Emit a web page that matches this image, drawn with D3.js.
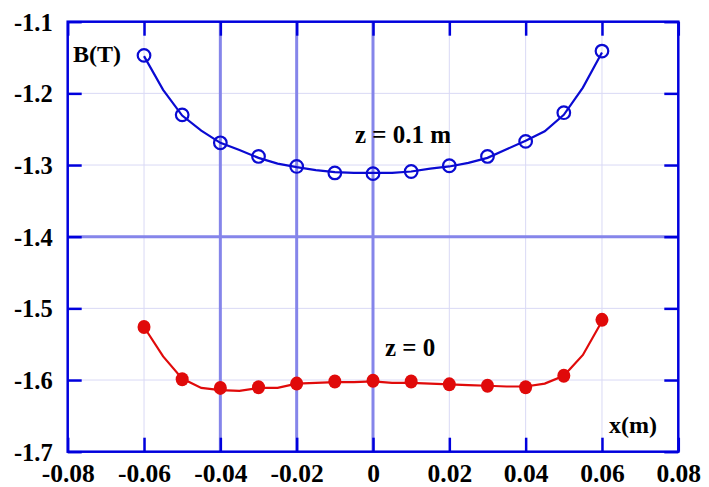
<!DOCTYPE html>
<html>
<head>
<meta charset="utf-8">
<script src="https://cdn.jsdelivr.net/npm/d3@7"></script>
<style>
  body { margin: 0; background: #fff; }
  text { font-family: "Liberation Serif", "Times New Roman", serif; font-weight: bold; fill: #000; }
</style>
</head>
<body>
<div id="chart"></div>
<script>
// tick values
const xTicks = [-0.08, -0.06, -0.04, -0.02, 0, 0.02, 0.04, 0.06, 0.08];
const yTicks = [-1.1, -1.2, -1.3, -1.4, -1.5, -1.6, -1.7];
const xBold = [-0.04, -0.02, 0];
const yBold = [-1.4];

// measured points (markers)
const markerX = [-0.06, -0.05, -0.04, -0.03, -0.02, -0.01, 0, 0.01, 0.02, 0.03, 0.04, 0.05, 0.06];
const markerTop = [-1.147, -1.230, -1.269, -1.288, -1.302, -1.311, -1.312, -1.309, -1.301, -1.288, -1.267, -1.227, -1.141];
const markerBottom = [-1.526, -1.599, -1.611, -1.610, -1.605, -1.602, -1.601, -1.602, -1.606, -1.608, -1.610, -1.594, -1.516];

// denser curve through the points
const lineX = [-0.06, -0.055, -0.05, -0.045, -0.04, -0.035, -0.03, -0.025, -0.02, -0.015, -0.01, -0.005, 0,
  0.005, 0.01, 0.015, 0.02, 0.025, 0.03, 0.035, 0.04, 0.045, 0.05, 0.055, 0.06];
const lineTop = [-1.148, -1.195, -1.231, -1.252, -1.269, -1.279, -1.290, -1.298, -1.303, -1.307, -1.310, -1.311, -1.311,
  -1.311, -1.309, -1.305, -1.302, -1.297, -1.290, -1.278, -1.266, -1.253, -1.230, -1.192, -1.143];
const lineBottom = [-1.526, -1.567, -1.598, -1.611, -1.614, -1.615, -1.611, -1.611, -1.605, -1.604, -1.603, -1.603, -1.602,
  -1.604, -1.604, -1.605, -1.606, -1.607, -1.608, -1.609, -1.609, -1.605, -1.594, -1.565, -1.518];

const width = 709, height = 487;
const plotL = 67.7, plotR = 678.3, plotT = 21.7, plotB = 451.7;

const svg = d3.select("#chart")
  .append("svg")
  .attr("width", width)
  .attr("height", height);

const x = d3.scaleLinear().domain([-0.08, 0.08]).range([plotL, plotR]);
const y = d3.scaleLinear().domain([-1.7, -1.1]).range([plotB, plotT]);

// plain hyphen instead of the unicode minus d3 uses
const fmtX = d => d === 0 ? "0" : d3.format(".2f")(d).replace("\u2212", "-");
const fmtY = d => d3.format(".1f")(d).replace("\u2212", "-");

// light grid
const grid = svg.append("g");
grid.selectAll(".gx").data(xTicks.slice(1, -1)).enter().append("line")
  .attr("x1", d => x(d)).attr("x2", d => x(d))
  .attr("y1", plotT).attr("y2", plotB)
  .attr("stroke", "#d9d9f5").attr("stroke-width", 1);
grid.selectAll(".gy").data(yTicks.slice(1, -1)).enter().append("line")
  .attr("x1", plotL).attr("x2", plotR)
  .attr("y1", d => y(d)).attr("y2", d => y(d))
  .attr("stroke", "#d9d9f5").attr("stroke-width", 1);

// heavier grid lines
grid.selectAll(".bx").data(xBold).enter().append("line")
  .attr("x1", d => x(d)).attr("x2", d => x(d))
  .attr("y1", plotT).attr("y2", plotB)
  .attr("stroke", "#8585ea").attr("stroke-width", 3);
grid.selectAll(".by").data(yBold).enter().append("line")
  .attr("x1", plotL).attr("x2", plotR)
  .attr("y1", d => y(d)).attr("y2", d => y(d))
  .attr("stroke", "#8585ea").attr("stroke-width", 3);

// axes, ticks pointing inward on all sides
const axisColor = "#0000dd";
const tl = 14;
const axes = [
  svg.append("g").attr("transform", `translate(0,${plotB})`).call(d3.axisBottom(x).tickValues(xTicks).tickSize(-tl).tickFormat(fmtX)),
  svg.append("g").attr("transform", `translate(0,${plotT})`).call(d3.axisTop(x).tickValues(xTicks).tickSize(-tl).tickFormat("")),
  svg.append("g").attr("transform", `translate(${plotL},0)`).call(d3.axisLeft(y).tickValues(yTicks).tickSize(-tl).tickFormat(fmtY)),
  svg.append("g").attr("transform", `translate(${plotR},0)`).call(d3.axisRight(y).tickValues(yTicks).tickSize(-tl).tickFormat(""))
];
axes.forEach(g => {
  g.attr("font-family", null).attr("font-size", null);
  g.select(".domain").remove();
  g.selectAll(".tick line").attr("stroke", axisColor).attr("stroke-width", 2.5);
  g.selectAll(".tick text").attr("fill", "#000");
});
axes[0].selectAll(".tick text").style("font-size", "25.5px")
  .attr("y", 30.5).attr("dy", null);
axes[2].selectAll(".tick text").style("font-size", "24.5px").attr("x", -15).attr("dy", "0.35em");

svg.append("rect")
  .attr("x", plotL).attr("y", plotT)
  .attr("width", plotR - plotL).attr("height", plotB - plotT)
  .attr("fill", "none").attr("stroke", axisColor).attr("stroke-width", 2.5);

// curves
const line = d3.line().x(d => x(d[0])).y(d => y(d[1]));
svg.append("path")
  .datum(d3.zip(lineX, lineTop))
  .attr("d", line).attr("fill", "none")
  .attr("stroke", "#0a0ad2").attr("stroke-width", 2.2);
svg.append("path")
  .datum(d3.zip(lineX, lineBottom))
  .attr("d", line).attr("fill", "none")
  .attr("stroke", "#e00a0a").attr("stroke-width", 2.2);

// markers
svg.selectAll(".mt").data(d3.zip(markerX, markerTop)).enter().append("circle")
  .attr("cx", d => x(d[0])).attr("cy", d => y(d[1])).attr("r", 6.3)
  .attr("fill", "none").attr("stroke", "#0a0ad2").attr("stroke-width", 2.2);
svg.selectAll(".mb").data(d3.zip(markerX, markerBottom)).enter().append("ellipse")
  .attr("cx", d => x(d[0])).attr("cy", d => y(d[1])).attr("rx", 6.5).attr("ry", 7)
  .attr("fill", "#e00a0a");

// labels
svg.append("text").attr("x", 73).attr("y", 62).style("font-size", "24px").text("B(T)");
svg.append("text").attr("x", 609).attr("y", 433).style("font-size", "24px").text("x(m)");
svg.append("text").attr("x", 355).attr("y", 143).style("font-size", "25px").text("z = 0.1 m");
svg.append("text").attr("x", 385).attr("y", 356).style("font-size", "25px").text("z = 0");
</script>
</body>
</html>
